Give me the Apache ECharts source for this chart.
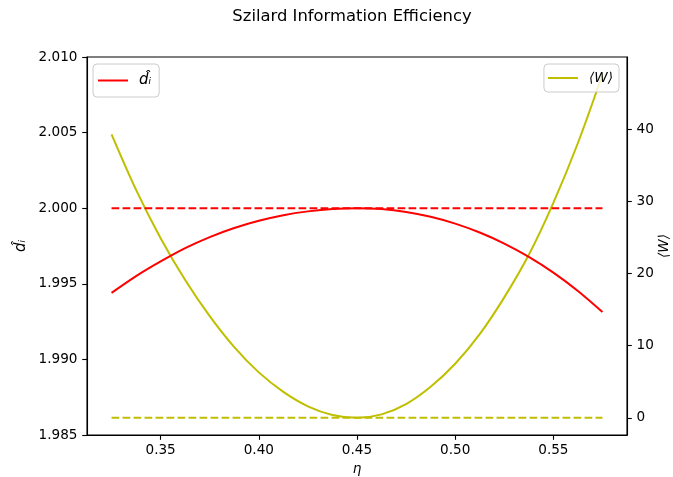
<!DOCTYPE html>
<html>
<head>
<meta charset="utf-8">
<script src="https://cdn.jsdelivr.net/npm/echarts@6/dist/echarts.min.js"></script>
<style>
html,body{margin:0;padding:0;background:#fff;}
#chart{width:673px;height:477px;}
</style>
</head>
<body>
<div id="chart"></div>
<script>
// Data
const etaValues = [0.325, 0.3375, 0.35, 0.3625, 0.375, 0.3875, 0.4, 0.4125, 0.425, 0.4375, 0.45,
                   0.4625, 0.475, 0.4875, 0.5, 0.5125, 0.525, 0.5375, 0.55, 0.5625, 0.575];
const dHatValues = [1.9944, 1.99551, 1.99648, 1.99736, 1.99809, 1.99869, 1.99917, 1.99954, 1.99979, 1.99995, 2.0,
                    1.99994, 1.99975, 1.99943, 1.99898, 1.99839, 1.99766, 1.99678, 1.99574, 1.99453, 1.99314];
const workValues = [39.3, 31.6, 24.9, 19.1, 14.1, 9.8, 6.3, 3.6, 1.6, 0.4, 0.0,
                    0.48, 1.9, 4.3, 7.5, 11.6, 16.7, 22.6, 29.8, 38.1, 47.6];
const dHatRefLine = [[0.325, 2.0], [0.575, 2.0]];
const workRefLine = [[0.325, 0.0], [0.575, 0.0]];
const xTicks = [0.35, 0.40, 0.45, 0.50, 0.55];
const leftTicks = [1.985, 1.990, 1.995, 2.000, 2.005, 2.010];
const rightTicks = [0, 10, 20, 30, 40];

const titleText = 'Szilard Information Efficiency';
const dHatName = 'd\u0302\u1D62';
const workName = '\u27E8W\u27E9';

const FONT = 'DejaVu Sans';
const RED = '#ff0000';
const YEL = '#bfbf00';

const chart = echarts.init(document.getElementById('chart'), null, {renderer: 'canvas'});

function zip(xs, ys) { return xs.map((x, i) => [x, ys[i]]); }

const axisCommon = {
  axisLine: {show: true, onZero: false, lineStyle: {color: '#000', width: 1.1}},
  splitLine: {show: false},
  nameMoveOverlap: false
};

const legendCommon = {
  orient: 'vertical', icon: 'rect', itemWidth: 30, itemHeight: 2,
  borderColor: '#cccccc', borderWidth: 1, borderRadius: 4,
  backgroundColor: 'rgba(255,255,255,0.8)'
};

const option = {
  backgroundColor: '#fff',
  animation: false,
  title: {
    text: titleText,
    left: 347, top: 4, textAlign: 'center',
    textStyle: {fontFamily: FONT, fontSize: 16.4, fontWeight: 'normal', color: '#000'}
  },
  grid: {left: 87, right: 46, top: 57, bottom: 42, containLabel: false, outerBoundsMode: 'none',
    show: true, borderColor: '#000', borderWidth: 1.1, backgroundColor: 'transparent'},
  legend: [
    Object.assign({}, legendCommon, {
      data: [dHatName], left: 93, top: 64,
      padding: [9, 8, 9, 5],
      textStyle: {fontFamily: FONT, fontSize: 15, fontStyle: 'italic', color: '#000', padding: [0, 0, 0, 6]}
    }),
    Object.assign({}, legendCommon, {
      data: [workName], right: 54, top: 64,
      padding: [7, 6, 7, 4],
      textStyle: {fontFamily: FONT, fontSize: 13.6, fontStyle: 'italic', color: '#000', padding: [0, 0, 0, 6]}
    })
  ],
  xAxis: Object.assign({}, axisCommon, {
    type: 'value', min: 0.3125, max: 0.5875,
    name: '\u03B7', nameLocation: 'middle', nameGap: 27,
    nameTextStyle: {fontFamily: FONT, fontSize: 13.6, fontStyle: 'italic', color: '#000'},
    axisTick: {show: true, length: 4.8, lineStyle: {color: '#000', width: 1.1}, customValues: xTicks},
    axisLabel: {customValues: xTicks, margin: 8, fontFamily: FONT, fontSize: 13.6, color: '#000',
      formatter: v => v.toFixed(2)}
  }),
  yAxis: [
    Object.assign({}, axisCommon, {
      type: 'value', position: 'left', min: 1.985, max: 2.010,
      name: dHatName, nameLocation: 'middle', nameGap: 58, nameRotate: 90,
      nameTextStyle: {fontFamily: FONT, fontSize: 15, fontStyle: 'italic', color: '#000'},
      axisTick: {show: true, length: 4.8, lineStyle: {color: '#000', width: 1.1}, customValues: leftTicks},
      axisLabel: {customValues: leftTicks, margin: 9.5, fontFamily: FONT, fontSize: 13.6, color: '#000',
        formatter: v => v.toFixed(3)}
    }),
    Object.assign({}, axisCommon, {
      type: 'value', position: 'right', min: -2.38, max: 50.02,
      name: workName, nameLocation: 'middle', nameGap: 30, nameRotate: 90,
      nameTextStyle: {fontFamily: FONT, fontSize: 13.6, fontStyle: 'italic', color: '#000'},
      axisTick: {show: true, length: 4.8, lineStyle: {color: '#000', width: 1.1}, customValues: rightTicks},
      axisLabel: {customValues: rightTicks, margin: 9.5, fontFamily: FONT, fontSize: 13.6, color: '#000',
        formatter: v => String(v)}
    })
  ],
  series: [
    {
      name: dHatName, type: 'line', yAxisIndex: 0, data: zip(etaValues, dHatValues),
      symbol: 'none', smooth: 0.3, lineStyle: {color: RED, width: 2}, itemStyle: {color: RED}, z: 3
    },
    {
      name: 'dHatRef', type: 'line', yAxisIndex: 0, data: dHatRefLine,
      symbol: 'none', lineStyle: {color: RED, width: 2, type: [7.7, 3.3]}, itemStyle: {color: RED}, z: 3
    },
    {
      name: workName, type: 'line', yAxisIndex: 1, data: zip(etaValues, workValues),
      symbol: 'none', smooth: 0.3, lineStyle: {color: YEL, width: 2}, itemStyle: {color: YEL}, z: 2
    },
    {
      name: 'workRef', type: 'line', yAxisIndex: 1, data: workRefLine,
      symbol: 'none', lineStyle: {color: YEL, width: 2, type: [7.7, 3.3]}, itemStyle: {color: YEL}, z: 2
    }
  ]
};
chart.setOption(option);
</script>
</body>
</html>
